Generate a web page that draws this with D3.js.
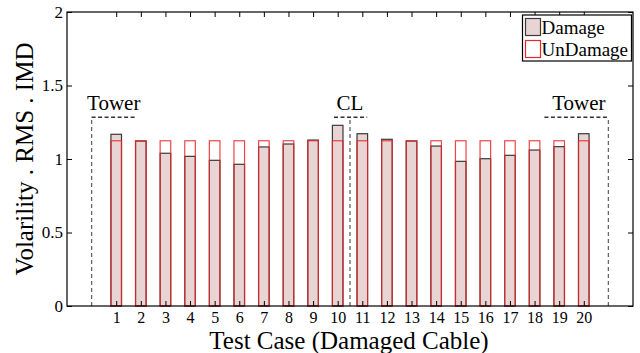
<!DOCTYPE html>
<html>
<head>
<meta charset="utf-8">
<script src="https://cdn.jsdelivr.net/npm/d3@7"></script>
<style>
  html, body { margin: 0; padding: 0; background: #fff; }
  svg { display: block; }
  text { font-family: "Liberation Serif", "Times New Roman", serif; fill: #000; }
</style>
</head>
<body>
<svg id="chart" width="640" height="353"></svg>
<script>
// ---- data ----
const cases = [1,2,3,4,5,6,7,8,9,10,11,12,13,14,15,16,17,18,19,20];
const damage = [1.168,1.122,1.039,1.018,0.991,0.964,1.082,1.102,1.129,1.229,
                1.172,1.134,1.122,1.088,0.984,1.002,1.025,1.061,1.084,1.172];
const undamage = [1.124,1.124,1.124,1.124,1.124,1.124,1.124,1.124,1.124,1.124,
                  1.124,1.124,1.124,1.124,1.124,1.124,1.124,1.124,1.124,1.124];
const yTicks = [0, 0.5, 1, 1.5, 2];
const yTickLabels = ["0", "0.5", "1", "1.5", "2"];
const seriesNames = ["Damage", "UnDamage"];
// region annotations: label, vertical line x, horizontal dash range, label center
const annLabels = ["Tower", "CL", "Tower"];
const annVx = [0, 10.5, 21];
const annH0 = [0, 9.85, 18.4];
const annH1 = [1.8, 11.2, 21];
const annLabelX = [0.9, 10.5, 19.8];
const annLevel = 1.284;

// ---- layout ----
const L = 67, R = 633, T = 12, B = 306;
const svg = d3.select("#chart");
const x = d3.scaleLinear().domain([-1, 22]).range([L, R]);
const y = d3.scaleLinear().domain([0, 2]).range([B, T]);
const barW = x(0.43) - x(0);

const colDamageFill = "#e9d4d4";
const colDamageStroke = "#3a3a3a";
const colUnStroke = "#e8262a";

// bars: damage
svg.append("g").selectAll("rect").data(cases).join("rect")
  .attr("x", (d, i) => x(d) - barW / 2)
  .attr("y", (d, i) => y(damage[i]))
  .attr("width", barW)
  .attr("height", (d, i) => y(0) - y(damage[i]))
  .attr("fill", colDamageFill)
  .attr("stroke", colDamageStroke)
  .attr("stroke-width", 1.2);

// bars: undamage (outline)
svg.append("g").selectAll("rect").data(cases).join("rect")
  .attr("x", (d, i) => x(d) - barW / 2)
  .attr("y", (d, i) => y(undamage[i]))
  .attr("width", barW)
  .attr("height", (d, i) => y(0) - y(undamage[i]))
  .attr("fill", "none")
  .attr("stroke", colUnStroke)
  .attr("stroke-opacity", 0.85)
  .attr("stroke-width", 1.2);

// annotations (dashed)
const ann = svg.append("g");
annLabels.forEach((lab, i) => {
  ann.append("line")
    .attr("x1", x(annVx[i])).attr("x2", x(annVx[i]))
    .attr("y1", y(0)).attr("y2", y(annLevel))
    .attr("stroke", "#666").attr("stroke-width", 1.3).attr("stroke-dasharray", "4,3");
  ann.append("line")
    .attr("x1", x(annH0[i])).attr("x2", x(annH1[i]))
    .attr("y1", y(annLevel)).attr("y2", y(annLevel))
    .attr("stroke", "#333").attr("stroke-width", 1.3).attr("stroke-dasharray", "4,2.5");
  ann.append("text")
    .attr("x", x(annLabelX[i])).attr("y", y(annLevel) - 7)
    .attr("text-anchor", "middle")
    .attr("font-size", 21)
    .text(lab);
});

// axes box
const axisG = svg.append("g");
axisG.append("rect")
  .attr("x", L).attr("y", T).attr("width", R - L).attr("height", B - T)
  .attr("fill", "none").attr("stroke", "#000").attr("stroke-width", 1.2);

// bottom axis (ticks inward)
const xAxis = d3.axisBottom(x).tickValues(cases).tickSize(-5).tickFormat(d3.format("d"));
const gx = axisG.append("g").attr("transform", `translate(0,${B})`).call(xAxis);
gx.select(".domain").remove();
gx.selectAll("text").attr("y", 17).attr("dy", 0)
  .attr("font-size", 16).attr("font-family", "Liberation Serif, serif").attr("fill", "#000");
gx.selectAll("line").attr("stroke", "#000");

// top axis ticks
const gxt = axisG.append("g").attr("transform", `translate(0,${T})`)
  .call(d3.axisTop(x).tickValues(cases).tickSize(-5).tickFormat(""));
gxt.select(".domain").remove();
gxt.selectAll("line").attr("stroke", "#000");

// left axis
const yAxis = d3.axisLeft(y).tickValues(yTicks).tickSize(-5).tickPadding(4)
  .tickFormat((d, i) => yTickLabels[i]);
const gy = axisG.append("g").attr("transform", `translate(${L},0)`).call(yAxis);
gy.select(".domain").remove();
gy.selectAll("text").attr("font-size", 17).attr("font-family", "Liberation Serif, serif").attr("fill", "#000");
gy.selectAll("line").attr("stroke", "#000");

// right axis ticks
const gyr = axisG.append("g").attr("transform", `translate(${R},0)`)
  .call(d3.axisRight(y).tickValues(yTicks).tickSize(-5).tickFormat(""));
gyr.select(".domain").remove();
gyr.selectAll("line").attr("stroke", "#000");

// axis titles
svg.append("text")
  .attr("x", 349).attr("y", 349)
  .attr("text-anchor", "middle")
  .attr("font-size", 25)
  .text("Test Case (Damaged Cable)");
svg.append("text")
  .attr("transform", `translate(33,${(T + B) / 2}) rotate(-90)`)
  .attr("text-anchor", "middle")
  .attr("font-size", 25)
  .text("Volarility . RMS . IMD");

// legend
const lg = svg.append("g");
lg.append("rect")
  .attr("x", 522.5).attr("y", 15).attr("width", 109).attr("height", 46)
  .attr("fill", "#fff").attr("stroke", "#000").attr("stroke-width", 1.2);
const swFill = [colDamageFill, "#fff"];
const swStroke = [colDamageStroke, colUnStroke];
seriesNames.forEach((name, i) => {
  lg.append("rect")
    .attr("x", 525.5).attr("y", 18.5 + i * 22).attr("width", 15).attr("height", 17)
    .attr("fill", swFill[i]).attr("stroke", swStroke[i]).attr("stroke-width", 1.2);
  lg.append("text")
    .attr("x", 541.5).attr("y", 34 + i * 21.5)
    .attr("font-size", 19)
    .text(name);
});
</script>
</body>
</html>
